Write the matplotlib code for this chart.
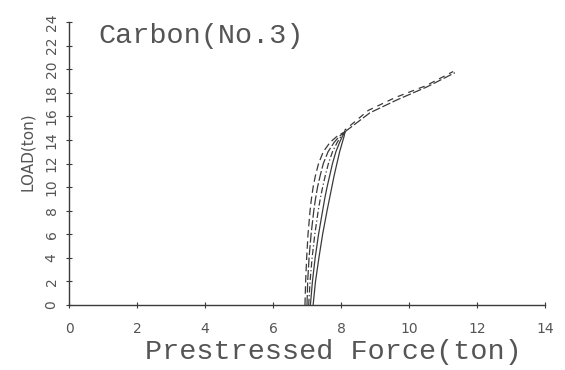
import matplotlib
matplotlib.use('Agg')
import matplotlib.pyplot as plt

# Нагрузка (ton), общие уровни для ветвей цикла
load = [0, 2, 4, 6, 8, 9, 10, 11, 12, 13, 13.8, 14.3, 14.7]

# Усилие преднапряжения (ton) для каждой ветви
force_dash1 = [6.94, 6.96, 6.99, 7.03, 7.09, 7.13, 7.18, 7.25, 7.34, 7.48, 7.68, 7.88, 8.12]
force_dash2 = [7.00, 7.02, 7.06, 7.12, 7.20, 7.25, 7.31, 7.39, 7.48, 7.62, 7.80, 7.95, 8.12]
force_dash3 = [7.05, 7.09, 7.15, 7.23, 7.33, 7.39, 7.46, 7.54, 7.63, 7.75, 7.89, 8.00, 8.12]
force_solid1 = [7.10, 7.16, 7.24, 7.34, 7.46, 7.52, 7.59, 7.67, 7.75, 7.85, 7.96, 8.04, 8.12]
force_solid2 = [7.18, 7.25, 7.35, 7.46, 7.59, 7.66, 7.73, 7.80, 7.88, 7.96, 8.04, 8.09, 8.12]

# Верхняя ветвь до разрушения
force_top = [8.12, 8.85, 9.65, 10.53, 11.35]
load_top = [14.7, 16.3, 17.4, 18.5, 19.7]
force_top2 = [8.10, 8.80, 9.60, 10.50, 11.30]
load_top2 = [14.8, 16.5, 17.6, 18.6, 19.8]

xticks = [0, 2, 4, 6, 8, 10, 12, 14]
yticks = [0, 2, 4, 6, 8, 10, 12, 14, 16, 18, 20, 22, 24]

ink = '#3a3a3a'
txt = '#555555'

fig = plt.figure(figsize=(5.65, 3.7), dpi=100)
ax = fig.add_axes([69 / 565, 1 - 305 / 370, 476 / 565, 283 / 370])

ax.plot(force_dash1, load, color=ink, lw=0.9, ls=(0, (6, 3)))
ax.plot(force_dash2, load, color=ink, lw=0.9, ls=(0, (8, 2)))
ax.plot(force_dash3, load, color=ink, lw=0.9, ls=(0, (5, 2, 1, 2)))
ax.plot(force_solid1, load, color=ink, lw=0.9)
ax.plot(force_solid2, load, color=ink, lw=0.9)
ax.plot(force_top, load_top, color=ink, lw=0.9, ls=(0, (7, 2)))
ax.plot(force_top2, load_top2, color=ink, lw=0.9, ls=(3, (5, 4)))

ax.set_xlim(0, 14)
ax.set_ylim(0, 24)
ax.set_xticks(xticks)
ax.set_yticks(yticks)
ax.set_xticklabels([str(v) for v in xticks], fontsize=10, color=txt)
ax.set_yticklabels([str(v) for v in yticks], fontsize=10, color=txt,
                   rotation=90, va='center')

for s in ['top', 'right']:
    ax.spines[s].set_visible(False)
for s in ['left', 'bottom']:
    ax.spines[s].set_color(ink)
    ax.spines[s].set_linewidth(1.0)
ax.tick_params(direction='inout', length=5, width=0.8, color=ink)
ax.tick_params(axis='x', pad=10)
ax.tick_params(axis='y', pad=5)

fig.text(27 / 565, 1 - 152 / 370, 'LOAD(ton)', rotation=90, fontsize=11,
         color=txt, ha='center', va='center')
fig.text(333 / 565, 1 - 352 / 370, 'Prestressed Force(ton)',
         family='Liberation Mono', fontsize=20.5, color=txt,
         ha='center', va='center')
fig.text(98 / 565, 1 - 36 / 370, 'Carbon(No.3)', family='Liberation Mono',
         fontsize=20.5, color=txt, ha='left', va='center')

fig.savefig('out.png', dpi=100, facecolor='white')
